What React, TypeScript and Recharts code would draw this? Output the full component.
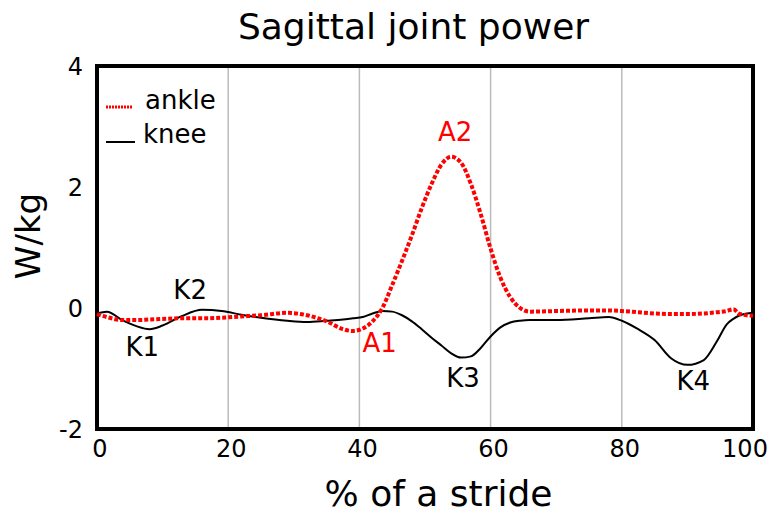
import { LineChart, Line, XAxis, YAxis, CartesianGrid, ReferenceArea, ReferenceDot, Legend } from "recharts";

document.body.style.margin = "0";

// % of stride
const stride = [0, 1.5, 4, 6, 8, 10, 13, 16, 19, 22, 25, 29, 32, 35, 37.5, 39, 40.5, 42, 43.5, 45, 46.5, 48, 49.5, 51, 52.5, 54, 55.5, 57, 58.5, 60, 61.5, 63, 64.5, 66, 70, 75, 78, 80, 82.5, 85, 87.5, 90, 92.5, 94.5, 96, 97, 98, 100];
// W/kg
const ankle = [-0.1, -0.15, -0.2, -0.2, -0.19, -0.18, -0.17, -0.17, -0.16, -0.14, -0.12, -0.08, -0.12, -0.22, -0.35, -0.38, -0.34, -0.22, 0.0, 0.38, 0.78, 1.2, 1.65, 2.05, 2.37, 2.5, 2.4, 2.05, 1.55, 0.98, 0.5, 0.18, 0.0, -0.06, -0.05, -0.04, -0.04, -0.05, -0.07, -0.09, -0.1, -0.1, -0.09, -0.07, -0.05, -0.02, -0.1, -0.13];
const knee = [-0.09, -0.06, -0.21, -0.3, -0.35, -0.29, -0.13, -0.03, -0.05, -0.11, -0.16, -0.21, -0.23, -0.21, -0.19, -0.17, -0.15, -0.09, -0.05, -0.06, -0.12, -0.22, -0.35, -0.49, -0.62, -0.75, -0.82, -0.8, -0.66, -0.47, -0.32, -0.24, -0.21, -0.2, -0.2, -0.17, -0.15, -0.21, -0.35, -0.53, -0.83, -0.94, -0.86, -0.55, -0.27, -0.18, -0.12, -0.08];

const xTicks = [0, 20, 40, 60, 80, 100];
const yTicks = [-2, 0, 2, 4];

// peak labels
const peaks = [
  { name: "K1", x: 6.9, y: -0.64, color: "#000000" },
  { name: "K2", x: 14.2, y: 0.3, color: "#000000" },
  { name: "A1", x: 43.1, y: -0.58, color: "#ff0000" },
  { name: "A2", x: 54.6, y: 2.91, color: "#ff0000" },
  { name: "K3", x: 55.8, y: -1.16, color: "#000000" },
  { name: "K4", x: 90.9, y: -1.2, color: "#000000" },
];

const data = stride.map((x, i) => ({ x, ankle: ankle[i], knee: knee[i] }));

const FONT = "'DejaVu Sans', sans-serif";

function LegendBox() {
  return (
    <svg width={130} height={70} style={{ fontFamily: FONT }}>
      <line x1={6} y1={22} x2={33} y2={22} stroke="#ff0000" strokeWidth={3} strokeDasharray="2 1" />
      <text x={45} y={24} fontSize={26} fill="#000">ankle</text>
      <line x1={6} y1={57} x2={35} y2={57} stroke="#000" strokeWidth={2} />
      <text x={43} y={58} fontSize={26} fill="#000">knee</text>
    </svg>
  );
}

// last label sits inside the frame, the others a touch right of their line
function XTick(props: any) {
  const { x, y, payload } = props;
  const dx = payload.value === 100 ? -8 : 3;
  return (
    <text x={x + dx} y={y} dy="0.71em" textAnchor="middle" fontSize={24} fill="#000">
      {payload.value}
    </text>
  );
}

export default function App() {
  return (
    <div style={{ position: "relative", width: 772, height: 513, fontFamily: FONT, background: "#fff" }}>
      <LineChart width={772} height={513} data={data} margin={{ top: 66, right: 19, bottom: 0, left: 0 }} style={{ fontFamily: FONT }}>
        <CartesianGrid horizontal={false} stroke="#bbbbbb" strokeWidth={1.5} />
        <XAxis
          dataKey="x"
          type="number"
          domain={[0, 100]}
          ticks={xTicks}
          height={84}
          tickLine={false}
          axisLine={false}
          tickSize={0}
          tickMargin={11}
          tick={<XTick />}
        />
        <YAxis
          type="number"
          domain={[-2, 4]}
          ticks={yTicks}
          width={97}
          tickLine={false}
          axisLine={false}
          tickSize={0}
          tickMargin={14}
          tick={{ fill: "#000", fontSize: 24 }}
        />
        <Legend layout="vertical" align="center" verticalAlign="middle" wrapperStyle={{ left: 100, top: 85, width: 130 }} content={() => <LegendBox />} />
        <Line dataKey="knee" type="monotone" stroke="#000" strokeWidth={2} dot={false} isAnimationActive={false} />
        <Line dataKey="ankle" type="monotone" stroke="#ff0000" strokeWidth={4} strokeDasharray="4 2" dot={false} isAnimationActive={false} />
        <ReferenceArea x1={0} x2={100} y1={-2} y2={4} fill="none" stroke="#000" strokeWidth={4} />
        {peaks.map((p) => (
          <ReferenceDot
            key={p.name}
            x={p.x}
            y={p.y}
            r={0}
            fill="none"
            stroke="none"
            label={{ value: p.name, position: "center", fill: p.color, fontSize: 26 }}
          />
        ))}
      </LineChart>
      <svg width={772} height={513} style={{ position: "absolute", left: 0, top: 0, pointerEvents: "none", fontFamily: FONT }}>
        <text x={413.5} y={39} textAnchor="middle" fontSize={36} fill="#000">Sagittal joint power</text>
        <text x={438.5} y={506} textAnchor="middle" fontSize={36} fill="#000">% of a stride</text>
        <text transform="translate(40,236) rotate(-90)" textAnchor="middle" fontSize={34} fill="#000">W/kg</text>
      </svg>
    </div>
  );
}
